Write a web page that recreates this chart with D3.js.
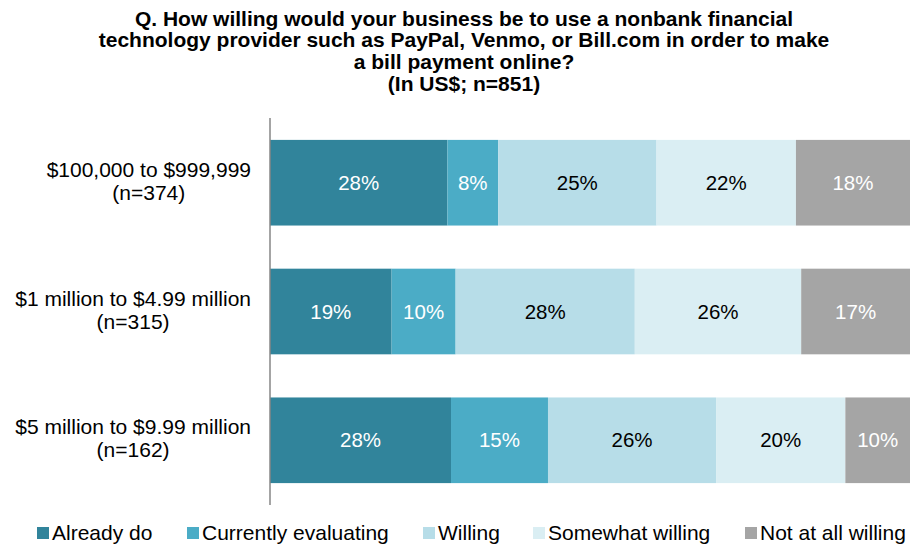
<!DOCTYPE html>
<html>
<head>
<meta charset="utf-8">
<script src="https://cdn.jsdelivr.net/npm/d3@7"></script>
<style>
  body { margin: 0; background: #fff; }
  svg { display: block; font-family: "Liberation Sans", Arial, sans-serif; }
</style>
</head>
<body>
<svg id="chart" width="910" height="546"></svg>
<script>
// Revenue bands (two-line labels) and response shares per band
const categories = ["$100,000 to $999,999", "$1 million to $4.99 million", "$5 million to $9.99 million"];
const sampleSizes = ["(n=374)", "(n=315)", "(n=162)"];
const seriesNames = ["Already do", "Currently evaluating", "Willing", "Somewhat willing", "Not at all willing"];
const alreadyDo = [28, 19, 28];
const currentlyEvaluating = [8, 10, 15];
const willing = [25, 28, 26];
const somewhatWilling = [22, 26, 20];
const notAtAllWilling = [18, 17, 10];
const titleLines = [
  "Q. How willing would your business be to use a nonbank financial",
  "technology provider such as PayPal, Venmo, or Bill.com in order to make",
  "a bill payment online?",
  "(In US$; n=851)"
];

const colors = ["#31849b", "#4bacc6", "#b7dde8", "#daeef3", "#a5a5a5"];
const labelColors = ["#fff", "#fff", "#000", "#000", "#fff"];

const svg = d3.select("#chart");
const plotLeft = 270, plotRight = 910, plotTop = 118, plotBottom = 505;

const table = categories.map((c, i) => ({
  cat: c,
  "Already do": alreadyDo[i],
  "Currently evaluating": currentlyEvaluating[i],
  "Willing": willing[i],
  "Somewhat willing": somewhatWilling[i],
  "Not at all willing": notAtAllWilling[i]
}));

// Each row is scaled to fill the full width
const stacked = d3.stack().keys(seriesNames).offset(d3.stackOffsetExpand)(table);

const x = d3.scaleLinear().domain([0, 1]).range([plotLeft, plotRight]);
const y = d3.scaleBand().domain(categories).range([plotTop, plotBottom]).paddingInner(0.335).paddingOuter(0.17);

// Title
svg.append("g").selectAll("text").data(titleLines).join("text")
  .attr("x", 464).attr("y", (d, i) => 25.5 + i * 21.7)
  .attr("text-anchor", "middle")
  .attr("font-size", 21).attr("font-weight", "bold").attr("fill", "#000")
  .text(d => d);

// Bars
const layers = svg.append("g").selectAll("g").data(stacked).join("g")
  .attr("fill", (d, i) => colors[i]);

layers.selectAll("rect").data(d => d).join("rect")
  .attr("x", d => x(d[0]))
  .attr("y", d => y(d.data.cat))
  .attr("width", d => x(d[1]) - x(d[0]))
  .attr("height", y.bandwidth());

// Segment value labels
stacked.forEach((layer, si) => {
  svg.append("g").selectAll("text").data(layer).join("text")
    .attr("x", d => (x(d[0]) + x(d[1])) / 2)
    .attr("y", d => y(d.data.cat) + y.bandwidth() / 2 + 7)
    .attr("text-anchor", "middle")
    .attr("font-size", 20.5)
    .attr("fill", labelColors[si])
    .text(d => d.data[layer.key] + "%");
});

// Category axis line
svg.append("line")
  .attr("x1", plotLeft).attr("x2", plotLeft)
  .attr("y1", plotTop).attr("y2", plotBottom)
  .attr("stroke", "#868686").attr("stroke-width", 1.5);

// Category labels: block right-aligned to the axis, lines centred within the block
const labelRight = 251;
categories.forEach((c, i) => {
  const g = svg.append("g").attr("font-size", 21).attr("fill", "#000").attr("text-anchor", "middle");
  const cy = y(c) + y.bandwidth() / 2;
  const t1 = g.append("text").attr("y", cy - 6).text(c);
  const t2 = g.append("text").attr("y", cy + 17).text(sampleSizes[i]);
  const w = Math.max(t1.node().getComputedTextLength(), t2.node().getComputedTextLength());
  const mid = labelRight - w / 2;
  t1.attr("x", mid);
  t2.attr("x", mid);
});

// Legend
const legendX = [37, 187, 423, 533, 745];
const legend = svg.append("g").selectAll("g").data(seriesNames).join("g")
  .attr("transform", (d, i) => `translate(${legendX[i]},540)`);
legend.append("rect")
  .attr("x", 0).attr("y", -13).attr("width", 12).attr("height", 12)
  .attr("fill", (d, i) => colors[i]);
legend.append("text")
  .attr("x", 15).attr("y", 0)
  .attr("font-size", 21).attr("fill", "#000")
  .text(d => d);
</script>
</body>
</html>
